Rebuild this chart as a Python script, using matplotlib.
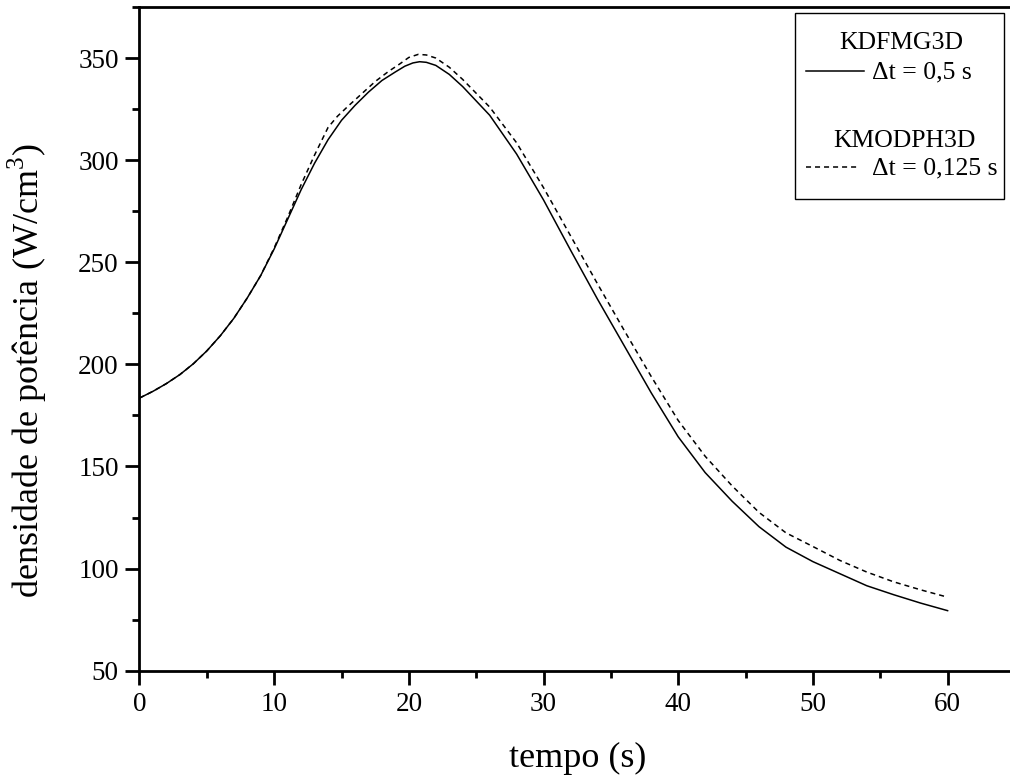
import matplotlib

matplotlib.use("Agg")
import matplotlib.pyplot as plt
from matplotlib.lines import Line2D
from matplotlib.patches import Rectangle
from matplotlib.ticker import MultipleLocator

# KDFMG3D, dt = 0.5 s (solid)
t_kdfmg = [0, 1, 2, 3, 4, 5, 6, 7, 8, 9, 10, 11, 12, 13, 14, 15, 16, 17,
           18, 19, 19.7, 20.3, 20.8, 21.3, 22, 23, 24, 26, 28, 30, 32, 34,
           36, 38, 40, 42, 44, 46, 48, 50, 52, 54, 56, 58, 60]
p_kdfmg = [183.5, 186.8, 190.6, 195, 200.3, 206.6, 214, 222.5, 232.5, 243.5,
           256.5, 271, 285.5, 298.5, 310, 319.5, 326.8, 333.3, 339, 343.2,
           346, 347.6, 348.2, 347.9, 346.4, 342, 336, 322, 303, 280.5, 256,
           232, 209, 186, 164.5, 147, 133, 120.5, 110.5, 103.4, 97.5, 91.6,
           87.2, 83.1, 79.4]

# KMODPH3D, dt = 0.125 s (dashed)
t_kmodph = [0, 1, 2, 3, 4, 5, 6, 7, 8, 9, 10, 11, 12, 13, 14, 14.7, 15.5,
            16.5, 17.5, 18.5, 19.3, 20, 20.7, 21.3, 22, 23, 24, 26, 28, 30,
            32, 34, 36, 38, 40, 42, 44, 46, 48, 50, 52, 54, 56, 58, 60]
p_kmodph = [183.5, 186.8, 190.6, 195, 200.3, 206.6, 214, 222.5, 232.5, 243.5,
            257, 272, 288, 302.5, 316, 321.5, 326.5, 332.5, 338.5, 343.5,
            347, 350.3, 351.8, 351.5, 350, 345.5, 339.5, 326, 308.5, 286.5,
            263, 239.5, 216.5, 194, 172.5, 155, 140.5, 127.5, 117.5, 110.8,
            104, 98.3, 93.5, 89.6, 86.0]

plt.rcParams["font.family"] = ["Liberation Serif", "DejaVu Serif"]
plt.rcParams["mathtext.fontset"] = "custom"
plt.rcParams["mathtext.rm"] = "Liberation Serif"

fig = plt.figure(figsize=(10.1, 7.76), dpi=100)
ax = fig.add_axes([0.1381, 0.1357, 0.8668, 0.8553])

ax.plot(t_kdfmg, p_kdfmg, color="black", linewidth=1.1)
ax.plot(t_kmodph, p_kmodph, color="black", linewidth=1.1,
        linestyle=(0, (3.3, 2.6)))

ax.set_xlim(0, 65)
ax.set_ylim(50, 375)
ax.xaxis.set_major_locator(MultipleLocator(10))
ax.xaxis.set_minor_locator(MultipleLocator(5))
ax.yaxis.set_major_locator(MultipleLocator(50))
ax.yaxis.set_minor_locator(MultipleLocator(25))
ax.tick_params(which="major", direction="out", length=10, width=2,
               labelsize=19.5, pad=5)
ax.tick_params(which="minor", direction="out", length=5, width=2)
for spine in ax.spines.values():
    spine.set_linewidth(2)

ax.set_xlabel("tempo (s)", fontsize=26, labelpad=18)
ax.set_ylabel(r"densidade de potência (W/cm$^{\mathrm{3}}$)", fontsize=26)
ax.yaxis.set_label_coords(-0.103, 0.452)

# legend box drawn by hand (two titled groups)
ax.add_patch(Rectangle((0.7484, 0.7103), 0.239, 0.2802, transform=ax.transAxes,
                       facecolor="white", edgecolor="black", linewidth=1.0,
                       zorder=5))
ax.text(0.8704, 0.9458, "KDFMG3D", transform=ax.transAxes, fontsize=18.5,
        ha="center", va="center", zorder=6)
ax.add_line(Line2D([0.7613, 0.8276], [0.9036, 0.9036], transform=ax.transAxes,
                   color="black", linewidth=1.1, zorder=6))
ax.text(0.8363, 0.902, "Δt = 0,5 s", transform=ax.transAxes, fontsize=18.5,
        ha="left", va="center", zorder=6)
ax.text(0.8733, 0.7981, "KMODPH3D", transform=ax.transAxes, fontsize=18.5,
        ha="center", va="center", zorder=6)
ax.add_line(Line2D([0.7613, 0.8218], [0.7594, 0.7594], transform=ax.transAxes,
                   color="black", linewidth=1.1, linestyle=(0, (3.3, 2.6)),
                   zorder=6))
ax.text(0.8363, 0.7574, "Δt = 0,125 s", transform=ax.transAxes, fontsize=18.5,
        ha="left", va="center", zorder=6)

fig.savefig("out.png", dpi=100, facecolor="white")
